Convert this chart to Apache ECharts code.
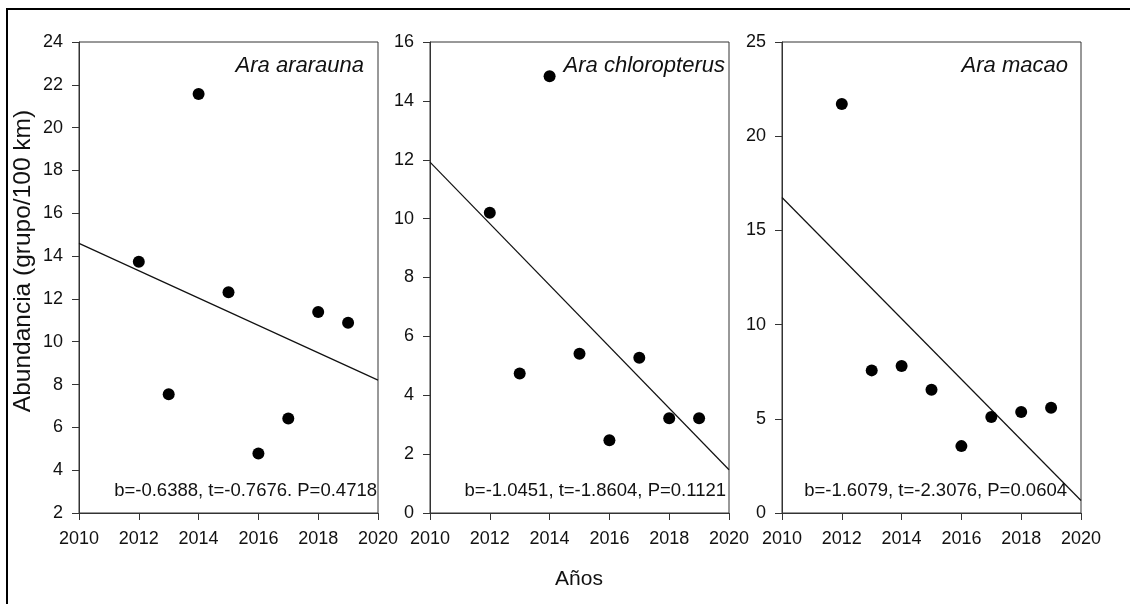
<!DOCTYPE html>
<html>
<head>
<meta charset="utf-8">
<script src="https://cdn.jsdelivr.net/npm/echarts@6/dist/echarts.min.js"></script>
<style>
  html, body { margin: 0; padding: 0; background: #fff; }
  #chart { width: 1130px; height: 604px; }
</style>
</head>
<body>
<div id="chart"></div>
<script>
// Survey years and abundance (groups per 100 km) for each macaw species
const years = [2012, 2013, 2014, 2015, 2016, 2017, 2018, 2019];
const araAraraunaAbund = [13.74, 7.55, 21.57, 12.31, 4.78, 6.41, 11.39, 10.89];
const araChloropterusAbund = [10.20, 4.74, 14.84, 5.41, 2.47, 5.27, 3.22, 3.22];
const araMacaoAbund = [21.71, 7.57, 7.80, 6.54, 3.55, 5.09, 5.36, 5.59];

// Regression slopes and their printed statistics
const slopes = [-0.6388, -1.0451, -1.6079];
const statLabels = [
  'b=-0.6388, t=-0.7676. P=0.4718',
  'b=-1.0451, t=-1.8604, P=0.1121',
  'b=-1.6079, t=-2.3076, P=0.0604'
];
const speciesNames = ['Ara ararauna', 'Ara chloropterus', 'Ara macao'];

// Axis ranges
const xRange = [2010, 2020];
const xStep = 2;
const yMins = [2, 0, 0];
const yMaxs = [24, 16, 25];
const ySteps = [2, 2, 5];

const yAxisTitle = 'Abundancia (grupo/100 km)';
const xAxisTitle = 'Años';

const series = [araAraraunaAbund, araChloropterusAbund, araMacaoAbund];

// Panel placement (pixels)
const panels = [
  { left: 79, right: 378, nameRight: 364, statRight: 377 },
  { left: 430, right: 729, nameRight: 725, statRight: 726 },
  { left: 782, right: 1081, nameRight: 1068, statRight: 1067 }
];
const plotTop = 42, plotBottom = 513;
const W = 1130, H = 604;

const FONT = '"Liberation Sans", Arial, Helvetica, sans-serif';
const INK = '#111';
const FRAME = '#333';

// Least-squares line through the mean point with the reported slope
function fitLine(vals, b) {
  const n = vals.length;
  const xbar = years.reduce((s, v) => s + v, 0) / n;
  const ybar = vals.reduce((s, v) => s + v, 0) / n;
  return [
    [xRange[0], ybar + b * (xRange[0] - xbar)],
    [xRange[1], ybar + b * (xRange[1] - xbar)]
  ];
}

const grids = [], xAxes = [], yAxes = [], seriesList = [], graphics = [];

panels.forEach((p, i) => {
  grids.push({
    left: p.left, right: W - p.right, top: plotTop, bottom: H - plotBottom,
    show: true, borderColor: FRAME, borderWidth: 1, backgroundColor: 'transparent'
  });
  xAxes.push({
    type: 'value', gridIndex: i, min: xRange[0], max: xRange[1], interval: xStep,
    axisLine: { show: true, onZero: false, lineStyle: { color: FRAME, width: 1 } },
    axisTick: { show: true, inside: false, length: 7, lineStyle: { color: FRAME } },
    axisLabel: { show: true, margin: 17, color: INK, fontFamily: FONT, fontSize: 18,
                 formatter: v => String(v),
                 showMinLabel: true, showMaxLabel: true, hideOverlap: false },
    splitLine: { show: false }
  });
  yAxes.push({
    type: 'value', gridIndex: i, min: yMins[i], max: yMaxs[i], interval: ySteps[i],
    axisLine: { show: true, onZero: false, lineStyle: { color: FRAME, width: 1 } },
    axisTick: { show: true, inside: false, length: 7, lineStyle: { color: FRAME } },
    axisLabel: { show: true, margin: 16, color: INK, fontFamily: FONT, fontSize: 18,
                 formatter: v => String(v),
                 showMinLabel: true, showMaxLabel: true, hideOverlap: false },
    splitLine: { show: false }
  });
  seriesList.push({
    type: 'line', xAxisIndex: i, yAxisIndex: i,
    data: fitLine(series[i], slopes[i]),
    showSymbol: false, symbol: 'none', silent: true,
    lineStyle: { color: INK, width: 1.2 }, z: 2
  });
  seriesList.push({
    type: 'scatter', xAxisIndex: i, yAxisIndex: i,
    data: years.map((y, k) => [y, series[i][k]]),
    symbol: 'circle', symbolSize: 12,
    itemStyle: { color: '#000', opacity: 1 }, z: 3
  });
  // species name (top-right) and regression statistics (bottom)
  graphics.push({
    type: 'text', right: W - p.nameRight, top: 55,
    style: { text: speciesNames[i], font: 'italic 22px ' + FONT, fill: INK }
  });
  graphics.push({
    type: 'text', right: W - p.statRight, top: 481,
    style: { text: statLabels[i], font: '18.5px ' + FONT, fill: INK }
  });
});

// Shared axis titles
graphics.push({
  type: 'text', x: 23, y: 261, rotation: Math.PI / 2,
  style: { text: yAxisTitle, font: '24.5px ' + FONT, fill: INK, align: 'center', verticalAlign: 'middle' }
});
graphics.push({
  type: 'text', x: 579, y: 579,
  style: { text: xAxisTitle, font: '21px ' + FONT, fill: INK, align: 'center', verticalAlign: 'middle' }
});
// Outer frame
graphics.push({
  type: 'rect', shape: { x: 7, y: 9, width: 1300, height: 800 },
  style: { fill: 'none', stroke: '#000', lineWidth: 2 }, z: -1
});

const chart = echarts.init(document.getElementById('chart'), null, { renderer: 'canvas' });
chart.setOption({
  animation: false,
  backgroundColor: '#fff',
  grid: grids,
  xAxis: xAxes,
  yAxis: yAxes,
  series: seriesList,
  graphic: graphics
});
</script>
</body>
</html>
